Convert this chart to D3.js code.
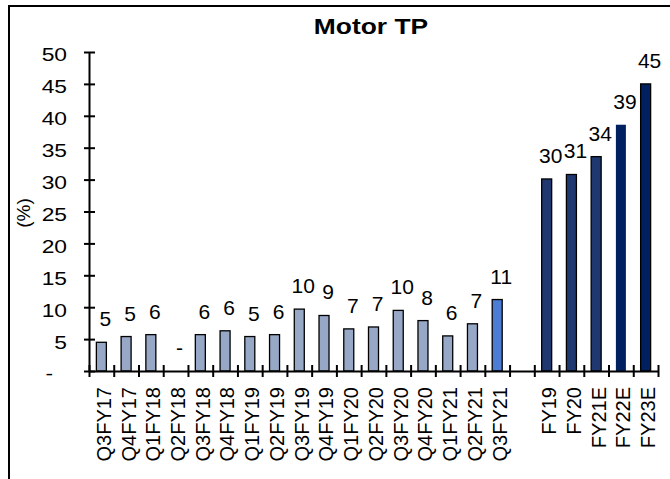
<!DOCTYPE html>
<html>
<head>
<meta charset="utf-8">
<script src="https://cdn.jsdelivr.net/npm/d3@7"></script>
<style>
  html, body { margin: 0; padding: 0; background: #fff; overflow: hidden; }
  svg { display: block; }
  svg text { font-family: "Liberation Sans", Arial, sans-serif; }
  .axis path, .axis line { stroke: #000; stroke-width: 2px; }
</style>
</head>
<body>
<svg id="chartSvg" width="670" height="479"></svg>
<script>
const quarterLabels = ['Q3FY17','Q4FY17','Q1FY18','Q2FY18','Q3FY18','Q4FY18','Q1FY19','Q2FY19',
  'Q3FY19','Q4FY19','Q1FY20','Q2FY20','Q3FY20','Q4FY20','Q1FY21','Q2FY21','Q3FY21'];
const quarterValues = [4.5, 5.4, 5.7, 0, 5.7, 6.3, 5.4, 5.7, 9.7, 8.7, 6.6, 6.9, 9.5, 7.9, 5.5, 7.4, 11.2];
const yearLabels = ['FY19','FY20','FY21E','FY22E','FY23E'];
const yearValues = [30.1, 30.8, 33.6, 38.6, 45.0];
const yTicks = [0, 5, 10, 15, 20, 25, 30, 35, 40, 45, 50];

const svg = d3.select('#chartSvg');
const plot = { left: 89, right: 658, bottom: 371, top: 52 };

// one blank slot between quarters and years
const cats = quarterLabels.concat([''], yearLabels);
const rows = [];
quarterLabels.forEach((d, i) => rows.push({ idx: i, label: d, value: quarterValues[i], group: 'q' }));
yearLabels.forEach((d, i) => rows.push({ idx: quarterLabels.length + 1 + i, label: d, value: yearValues[i], group: 'y' }));

const xScale = d3.scaleBand().domain(d3.range(cats.length)).range([plot.left, plot.right]);
const xEdge = d3.scaleLinear().domain([0, cats.length]).range([plot.left, plot.right]);
const yScale = d3.scaleLinear().domain([0, 50]).range([plot.bottom, plot.top]);

// frame (left and top edges only are inside the picture)
svg.append('path')
  .attr('d', 'M9,479V6H670')
  .attr('fill', 'none').attr('stroke', '#000').attr('stroke-width', 2);

// title
svg.append('text')
  .attr('transform', 'translate(371,34) scale(1.2,1)')
  .attr('text-anchor', 'middle')
  .style('font-size', '22px').style('font-weight', 'bold')
  .text('Motor TP');

// y label
svg.append('text')
  .attr('transform', 'translate(30,213) rotate(-90)')
  .attr('text-anchor', 'middle')
  .style('font-size', '19px')
  .text('(%)');

function barFill(d) {
  if (d.group === 'q') return d.label === 'Q3FY21' ? '#4a7dd3' : '#97a7c6';
  return (d.label === 'FY22E' || d.label === 'FY23E') ? '#00205f' : '#1f3870';
}

// bars
const bw = 10;
svg.append('g').selectAll('rect')
  .data(rows)
  .enter()
  .append('rect')
  .attr('x', d => xScale(d.idx) + xScale.bandwidth() / 2 - bw / 2)
  .attr('y', d => yScale(d.value))
  .attr('width', bw)
  .attr('height', d => yScale(0) - yScale(d.value))
  .attr('fill', barFill)
  .attr('stroke', d => d.label === 'FY22E' ? 'none' : '#000')
  .attr('stroke-width', 1.3);

// value labels
svg.append('g').selectAll('text')
  .data(rows)
  .enter()
  .append('text')
  .attr('x', d => xScale(d.idx) + xScale.bandwidth() / 2 + 4)
  .attr('y', d => yScale(d.value) - 16)
  .attr('text-anchor', 'middle')
  .attr('fill', '#000')
  .style('font-size', '21px')
  .text(d => d.value === 0 ? '-' : Math.round(d.value));

// x axis: category labels
const xAxis = d3.axisBottom(xScale).tickSize(0).tickFormat(i => cats[i]);
const gX = svg.append('g').attr('transform', `translate(0,${plot.bottom})`).call(xAxis);
gX.select('.domain').remove();
gX.selectAll('.tick line').remove();
gX.selectAll('.tick text')
  .attr('transform', 'rotate(-90)')
  .attr('x', -16)
  .attr('y', 0)
  .attr('dy', '0.47em')
  .attr('fill', '#000')
  .style('text-anchor', 'end')
  .style('font-size', '20px');

// x axis: boundary ticks
const xTickAxis = d3.axisBottom(xEdge)
  .tickValues(d3.range(cats.length + 1))
  .tickSizeOuter(0)
  .tickFormat(() => '');
const gXT = svg.append('g').attr('class', 'axis').attr('transform', `translate(0,${plot.bottom})`).call(xTickAxis);
gXT.selectAll('.tick line').attr('y1', -6).attr('y2', 6);

// y axis
const yAxis = d3.axisLeft(yScale)
  .tickValues(yTicks)
  .tickSizeOuter(0)
  .tickFormat(d => d === 0 ? '-' : d);
const gY = svg.append('g').attr('class', 'axis').attr('transform', `translate(${plot.left},0)`).call(yAxis);
gY.selectAll('.tick line').attr('x1', 6).attr('x2', -5);
gY.selectAll('.tick text')
  .attr('x', 0)
  .attr('dy', '0.47em')
  .attr('fill', '#000')
  .attr('transform', d => d === 0 ? 'translate(-36,0) scale(1.2,1)' : 'translate(-22,0) scale(1.2,1)')
  .style('font-size', '19px');
</script>
</body>
</html>
